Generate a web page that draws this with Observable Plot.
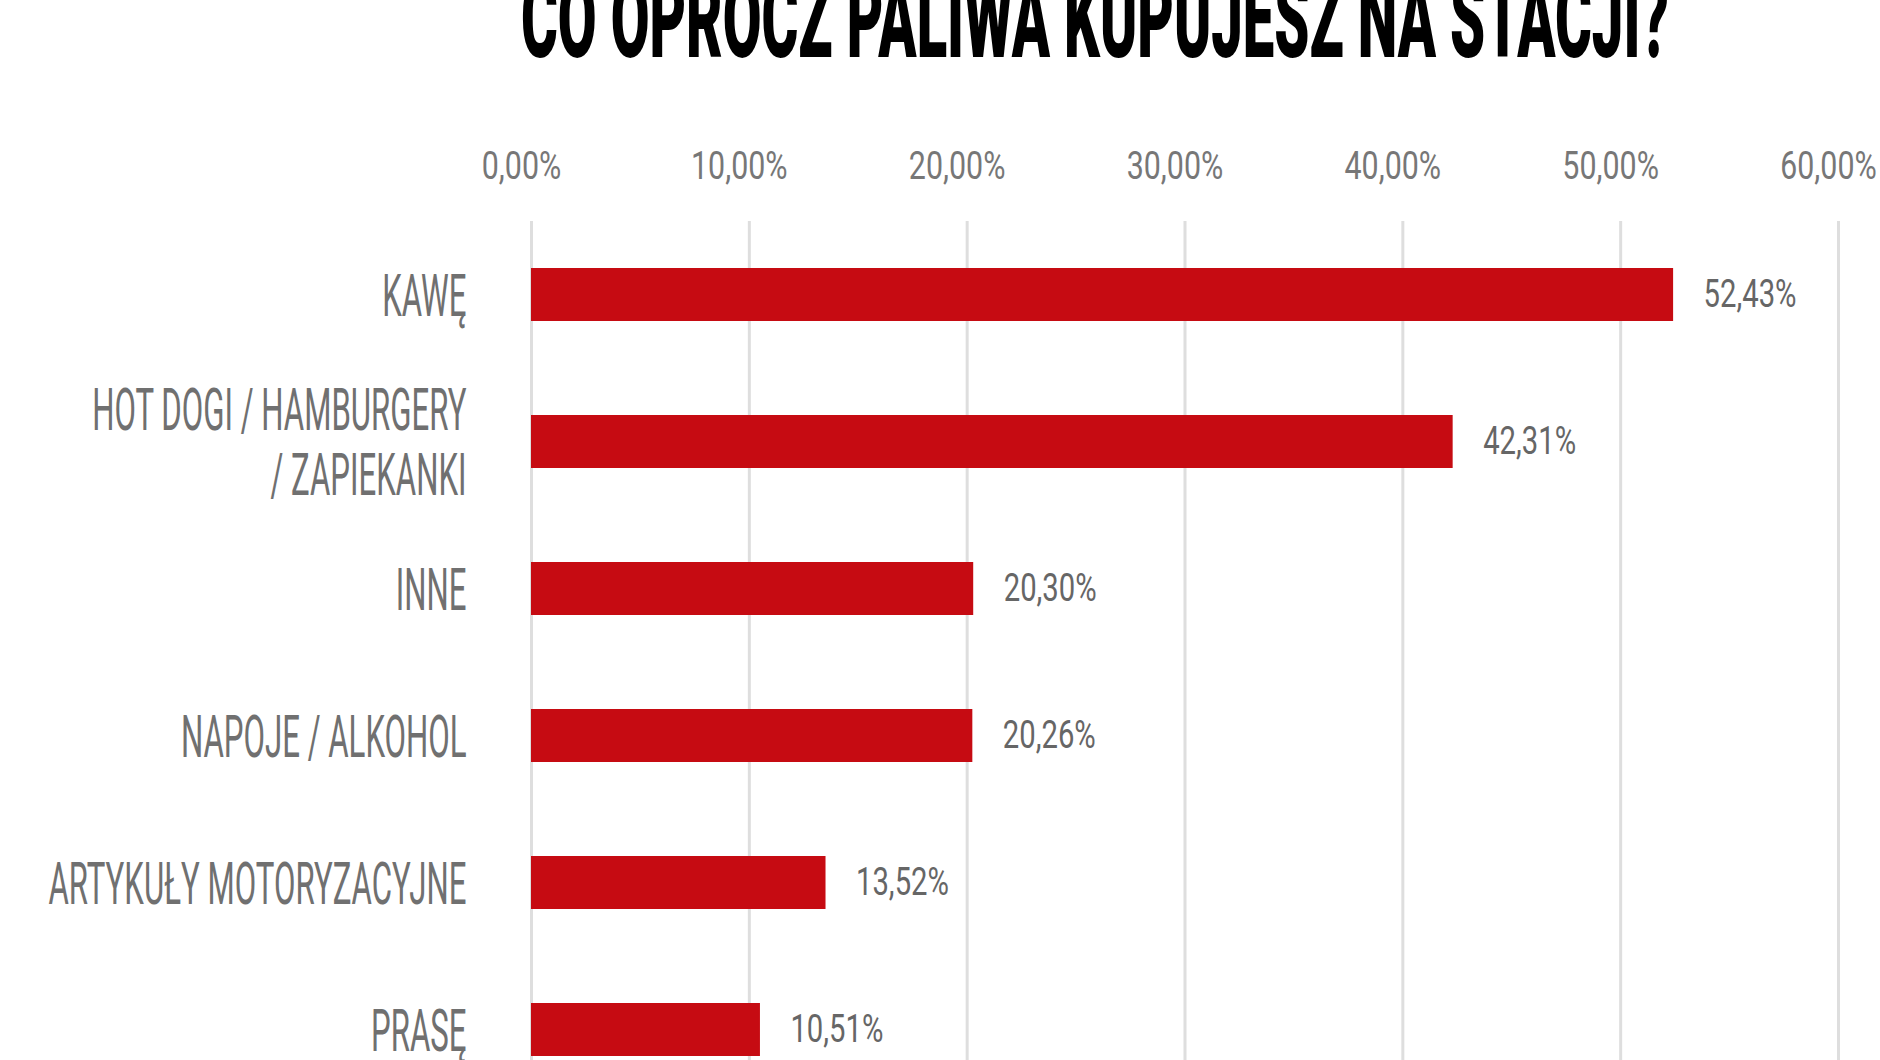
<!DOCTYPE html>
<html>
<head>
<meta charset="utf-8">
<script src="https://cdn.jsdelivr.net/npm/d3@7"></script>
<script src="https://cdn.jsdelivr.net/npm/@observablehq/plot@0.6"></script>
<style>
  html, body { margin: 0; padding: 0; background: #fff; }
  body { width: 1880px; height: 1060px; overflow: hidden; font-family: Roboto, "Noto Sans", sans-serif; }
  #head { position: relative; height: 120px; width: 1880px; }
  #title { position: absolute; top: -37px; left: 1095px; white-space: nowrap;
           font-family: Roboto, sans-serif; font-weight: 900; font-size: 112px; line-height: 1;
           color: #000; transform-origin: center center; }
  #chart svg { display: block; }
</style>
</head>
<body>
<div id="head"><span id="title">CO OPRÓCZ PALIWA KUPUJESZ NA STACJI?</span></div>
<div id="chart"></div>
<script>
const categories = ["KAWĘ", "HOT DOGI / HAMBURGERY\n/ ZAPIEKANKI", "INNE", "NAPOJE / ALKOHOL", "ARTYKUŁY MOTORYZACYJNE", "PRASĘ"];
const values = [52.43, 42.31, 20.30, 20.26, 13.52, 10.51];
const xTicks = [0, 10, 20, 30, 40, 50, 60];

const data = categories.map((c, i) => ({category: c, value: values[i]}));
const fmt = d => d.toFixed(2).replace(".", ",") + "%";

const plot = Plot.plot({
  width: 1880,
  height: 940,
  marginLeft: 531,
  marginRight: 42,
  marginTop: 101,
  marginBottom: 0,
  style: {fontFamily: "Roboto, sans-serif", background: "#fff"},
  x: {domain: [0, 60]},
  y: {domain: categories, range: [101, 983], paddingInner: 0.64, paddingOuter: 0.32, align: 0.5},
  marks: [
    Plot.gridX(xTicks, {stroke: "#dedede", strokeWidth: 3, strokeOpacity: 1}),
    Plot.barX(data, {x: "value", y: "category", fill: "#c60b12"}),
    Plot.text(data, {x: "value", y: "category", text: d => fmt(d.value), textAnchor: "start", dx: 30, fontSize: 39, fill: "#666666"}),
    Plot.axisX(xTicks, {anchor: "top", tickSize: 0, tickPadding: 43, dx: -10, tickFormat: fmt, fontSize: 38, fill: "#777777", label: null}),
    Plot.axisY({anchor: "left", tickSize: 0, tickPadding: 65, fontSize: 60, fill: "#707070", label: null, lineHeight: 1.07})
  ]
});
document.getElementById("chart").appendChild(plot);

function squeeze(sel, k) {
  plot.querySelectorAll(sel).forEach(t => {
    const spans = t.querySelectorAll("tspan");
    const els = spans.length ? Array.from(spans) : [t];
    els.forEach(el => {
      const w = el.getComputedTextLength();
      el.setAttribute("textLength", (w * k).toFixed(1));
      el.setAttribute("lengthAdjust", "spacingAndGlyphs");
    });
  });
}
squeeze('g[aria-label="y-axis tick label"] text', 0.52);
squeeze('g[aria-label="x-axis tick label"] text', 0.8);
squeeze('g[aria-label="text"] text', 0.75);

const title = document.getElementById("title");
const tw = title.getBoundingClientRect().width;
title.style.transform = `translateX(-50%) scaleX(${1148 / tw})`;
</script>
</body>
</html>
